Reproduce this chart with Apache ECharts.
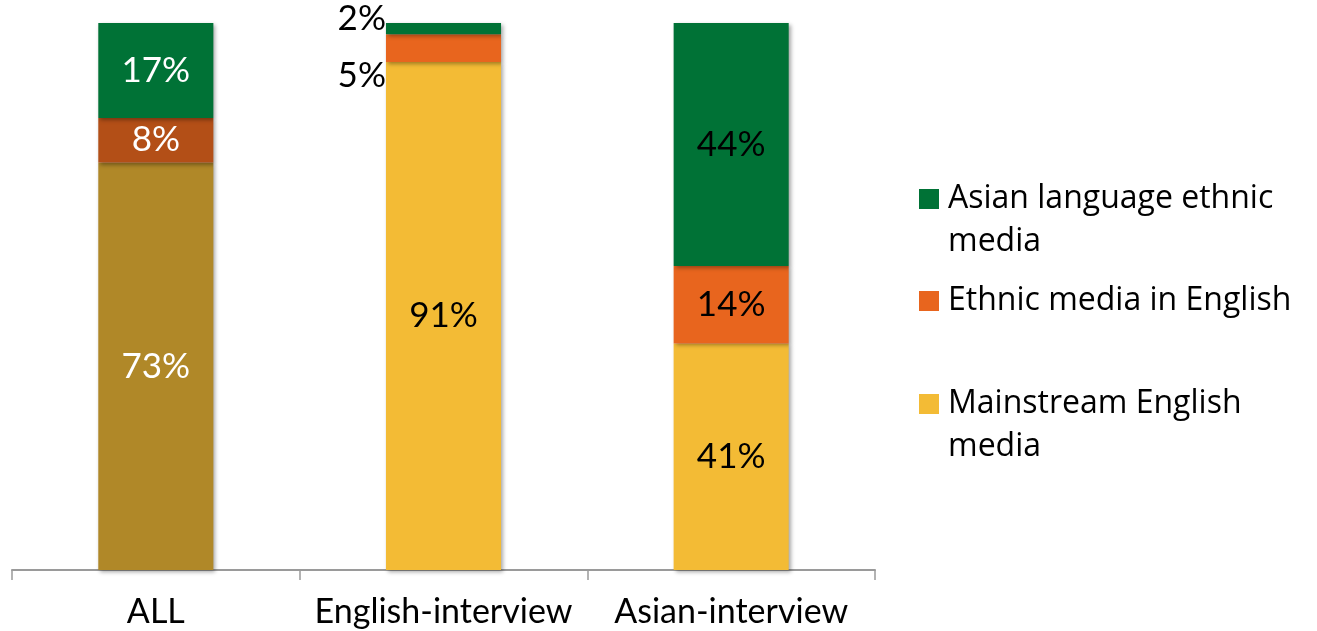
<!DOCTYPE html>
<html>
<head>
<meta charset="utf-8">
<script src="https://cdn.jsdelivr.net/npm/echarts@6/dist/echarts.min.js"></script>
<style>html,body{margin:0;padding:0;background:#fff}#c{width:1317px;height:631px}</style>
</head>
<body>
<div id="c"></div>
<script>
var categories = ['ALL', 'English-interview', 'Asian-interview'];
var asianLang = [17, 2, 44];
var ethnicEng = [8, 5, 14];
var mainstream = [73, 91, 41];
var seriesNames = ['Asian language ethnic\nmedia', 'Ethnic media in English', 'Mainstream English\nmedia'];

var FONT = 'Lato';
var LEGEND_FONT = 'Open Sans';
var totals = categories.map(function (c, i) { return asianLang[i] + ethnicEng[i] + mainstream[i]; });

var colors = { asian: '#007236', eth: '#E8651E', main: '#F3BB35' };
var allColors = { asian: '#007236', eth: '#B34F17', main: '#B08828' };

function build(vals, key, labelOverrides) {
  return vals.map(function (v, i) {
    var d = { value: v / totals[i] * 100, raw: v };
    if (i === 0) {
      d.itemStyle = { color: allColors[key] };
      d.label = { color: '#ffffff' };
    }
    if (labelOverrides && labelOverrides[i]) d.label = labelOverrides[i];
    return d;
  });
}

var shadow = { shadowBlur: 4, shadowColor: 'rgba(0,0,0,0.35)', shadowOffsetX: 2, shadowOffsetY: 2 };
function mkSeries(name, vals, key, over) {
  return {
    name: name, type: 'bar', stack: 'total', barWidth: '40%',
    itemStyle: Object.assign({ color: colors[key] }, shadow),
    label: {
      show: true, position: 'inside', color: '#000', fontFamily: FONT, fontSize: 35,
      formatter: function (p) { return p.data.raw + '%'; }
    },
    data: build(vals, key, over)
  };
}

function legendFor(name, top, twoLine) {
  return {
    data: [name], orient: 'vertical', left: 919, top: top, padding: 0, itemWidth: 20, itemHeight: 20,
    icon: 'rect',
    formatter: function (n) { return twoLine ? '\n' + n : n; },
    textStyle: { fontFamily: LEGEND_FONT, fontSize: 32, color: '#000', lineHeight: 43, padding: [0, 0, 0, 4] }
  };
}

var option = {
  animation: false,
  backgroundColor: '#ffffff',
  grid: { left: 12, right: 442, top: 23, bottom: 61 },
  xAxis: {
    type: 'category', data: categories,
    axisLine: { lineStyle: { color: '#9a9a9a', width: 2 } },
    axisTick: { show: true, interval: 0, length: 10, lineStyle: { color: '#9a9a9a', width: 1.5 } },
    axisLabel: { color: '#000', fontFamily: FONT, fontSize: 34, margin: 25, interval: 0, hideOverlap: false }
  },
  yAxis: { type: 'value', min: 0, max: 100, show: false, splitLine: { show: false } },
  legend: [
    legendFor(seriesNames[0], 134.5, true),
    legendFor(seriesNames[1], 279.5, false),
    legendFor(seriesNames[2], 339.5, true)
  ],
  series: [
    mkSeries(seriesNames[2], mainstream, 'main'),
    mkSeries(seriesNames[1], ethnicEng, 'eth', { 1: { position: 'left', distance: 0, offset: [0, 28], color: '#000' } }),
    mkSeries(seriesNames[0], asianLang, 'asian', { 1: { position: 'left', distance: 0, offset: [0, -10], color: '#000' } })
  ]
};

echarts.init(document.getElementById('c')).setOption(option);
</script>
</body>
</html>
